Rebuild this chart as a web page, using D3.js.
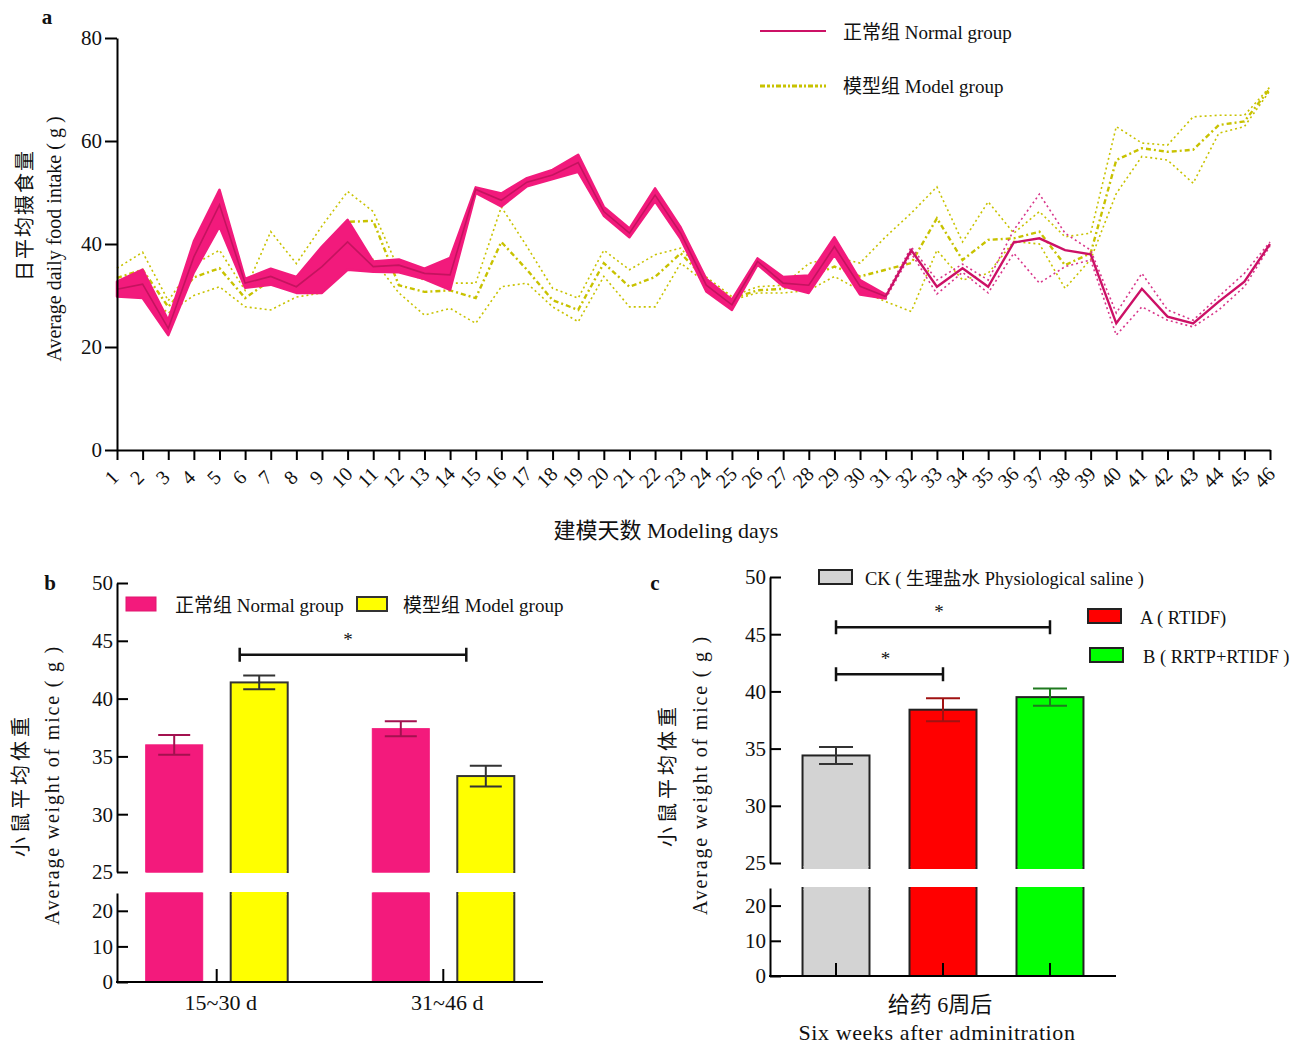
<!DOCTYPE html>
<html><head><meta charset="utf-8">
<script src="https://cdn.jsdelivr.net/npm/d3@7"></script>
<style>
body{margin:0;background:#fff}
text{font-family:"Liberation Serif","Times New Roman","Noto Sans CJK SC",serif;fill:#111}
</style>
</head><body>
<svg id="chart" width="1299" height="1045"></svg>
<script>
// ---------- Panel a data ----------
const days = [1,2,3,4,5,6,7,8,9,10,11,12,13,14,15,16,17,18,19,20,21,22,23,24,25,26,27,28,29,30,31,32,33,34,35,36,37,38,39,40,41,42,43,44,45,46];
const normalMean = [31.2,32.2,23.6,37.5,47.6,32.4,33.7,31.7,35.6,40.4,35.6,35.9,34.3,34.0,50.6,48.5,52.0,53.4,55.8,46.3,42.1,49.5,42.1,32.0,28.2,36.6,32.4,32.0,39.5,31.8,29.8,38.8,31.7,35.3,31.7,40.3,41.1,38.8,38.0,24.6,31.3,25.9,24.6,28.8,32.7,40.0];
const normalLo   = [29.8,29.5,22.3,34.5,43.4,31.5,32.1,30.5,30.5,35.0,34.6,34.5,33.2,31.1,49.9,47.3,51.2,52.6,54.0,45.5,41.3,48.3,41.0,30.8,27.2,36.0,31.8,30.5,37.9,30.2,29.4,38.2,30.3,34.5,30.5,38.2,32.4,35.6,36.9,22.3,27.8,25.2,23.9,27.2,31.7,39.6];
const normalHi   = [32.7,35.0,25.2,40.5,50.5,33.2,35.2,33.6,39.5,44.7,36.6,37.0,35.2,37.3,51.0,49.8,52.8,54.4,57.3,47.2,43.0,50.8,43.2,33.2,29.2,37.2,33.6,33.9,41.3,33.0,30.2,39.4,33.0,36.1,33.0,42.7,49.7,42.1,38.8,26.6,34.3,27.2,25.2,29.8,34.3,40.4];
const modelHi    = [35.3,38.4,29.0,36.0,38.8,31.0,42.4,36.2,43.5,50.2,46.3,35.0,33.0,32.4,32.4,47.2,39.5,31.4,29.5,38.8,35.0,37.9,39.2,33.6,29.8,31.7,32.0,36.2,37.5,36.3,41.4,46.0,51.1,40.4,48.2,42.1,46.3,41.4,42.1,62.8,59.6,59.2,64.7,65.0,65.0,70.5];
const modelMid   = [33.4,35.0,27.8,33.5,35.3,29.5,33.0,31.0,36.0,44.3,44.5,32.0,30.7,31.0,29.5,40.4,35.0,29.1,27.2,36.3,31.7,33.6,38.2,33.0,29.4,31.0,31.3,33.6,35.6,33.7,35.0,36.3,45.0,36.9,40.8,41.1,42.4,35.9,38.2,56.3,58.6,57.9,58.3,63.1,63.8,70.2];
const modelLo    = [32.0,30.7,26.6,30.0,31.7,27.8,27.2,29.7,30.5,36.5,37.0,30.5,26.2,27.5,24.6,31.7,32.4,27.8,24.9,33.7,27.8,27.8,36.3,32.4,29.1,30.5,30.5,31.0,33.7,31.0,28.8,26.9,38.8,33.0,34.3,40.5,40.0,31.4,37.0,49.8,57.0,56.3,51.8,61.5,62.8,69.8];
const aTicks = [0,20,40,60,80];
const bandLastDay = 31;

// ---------- Panel b data ----------
const bCategories = ["15~30 d","31~46 d"];
const bSeries = ["正常组 Normal group","模型组 Model group"];
const bNormal = [36.0, 37.4];
const bNormalErr = [0.85, 0.65];
const bModel = [41.4, 33.3];
const bModelErr = [0.6, 0.9];
const bUpperTicks = [25,30,35,40,45,50];
const bLowerTicks = [0,10,20];

// ---------- Panel c data ----------
const cCategories = ["CK","A","B"];
const cLegend = ["CK ( 生理盐水 Physiological saline )","A ( RTIDF)","B ( RRTP+RTIDF )"];
const cValues = [34.4, 38.4, 39.5];
const cErr = [0.75, 1.0, 0.75];
const cUpperTicks = [25,30,35,40,45,50];
const cLowerTicks = [0,10,20];

const svg = d3.select("#chart");

// ================= Panel a =================
const xA = d3.scalePoint().domain(days).range([117,1270]);
const yA = d3.scaleLinear().domain([0,80]).range([450,38]);
const gA = svg.append("g");

const normRows = days.map((d,i)=>({day:d, m:normalMean[i], lo:normalLo[i], hi:normalHi[i], mh:modelHi[i], mm:modelMid[i], ml:modelLo[i]}));
const bandRows = normRows.filter(r=>r.day<=bandLastDay);
const tailRows = normRows.filter(r=>r.day>=bandLastDay);
const yel = "#c8c200";

const mLine = k => d3.line().x(r=>xA(r.day)).y(r=>yA(r[k]));
gA.append("path").datum(normRows).attr("d",mLine("mh")).attr("fill","none").attr("stroke",yel).attr("stroke-width",1.6).attr("stroke-dasharray","2,3");
gA.append("path").datum(normRows).attr("d",mLine("ml")).attr("fill","none").attr("stroke",yel).attr("stroke-width",1.6).attr("stroke-dasharray","2,3");
gA.append("path").datum(normRows).attr("d",mLine("mm")).attr("fill","none").attr("stroke",yel).attr("stroke-width",2.4).attr("stroke-dasharray","5,3,2,3");

gA.append("path").datum(bandRows)
  .attr("d", d3.area().x(r=>xA(r.day)).y0(r=>yA(r.lo)).y1(r=>yA(r.hi)))
  .attr("fill","#f21a7c").attr("stroke","#f21a7c").attr("stroke-width",2.5).attr("stroke-linejoin","round");
gA.append("path").datum(bandRows).attr("d",mLine("m")).attr("fill","none").attr("stroke","#c4135f").attr("stroke-width",1.6);
gA.append("path").datum(tailRows).attr("d",mLine("lo")).attr("fill","none").attr("stroke","#d8358a").attr("stroke-width",1.6).attr("stroke-dasharray","2,3");
gA.append("path").datum(tailRows).attr("d",mLine("hi")).attr("fill","none").attr("stroke","#d8358a").attr("stroke-width",1.6).attr("stroke-dasharray","2,3");
gA.append("path").datum(tailRows).attr("d",mLine("m")).attr("fill","none").attr("stroke","#cc1166").attr("stroke-width",2.4);

const axYA = gA.append("g").attr("transform","translate(117,0)")
  .call(d3.axisLeft(yA).tickValues(aTicks).tickSize(12).tickSizeOuter(0).tickPadding(3));
const axXA = gA.append("g").attr("transform","translate(0,450)")
  .call(d3.axisBottom(xA).tickSize(10).tickSizeOuter(0).tickFormat(""));
[axYA,axXA].forEach(a=>{a.selectAll("path,line").attr("stroke","#000").attr("stroke-width",2);});
axYA.selectAll("text").attr("font-size",21).attr("fill","#111").style("font-family",'"Liberation Serif",serif');
gA.selectAll(".dayLbl").data(days).enter().append("text")
  .attr("transform",d=>`translate(${xA(d)-4},479) rotate(-45)`)
  .attr("text-anchor","middle").attr("dominant-baseline","middle")
  .attr("font-size",20).text(d=>d);
gA.append("text").attr("x",47).attr("y",24).attr("font-size",21).attr("font-weight","bold").attr("text-anchor","middle").text("a");
gA.append("text").attr("transform","translate(32,215) rotate(-90)").attr("text-anchor","middle").attr("font-size",20).attr("letter-spacing",2).text("日平均摄食量");
gA.append("text").attr("transform","translate(61,239) rotate(-90)").attr("text-anchor","middle").attr("font-size",20).text("Average daily food intake ( g )");
gA.append("text").attr("x",666).attr("y",538).attr("text-anchor","middle").attr("font-size",22).text("建模天数  Modeling days");
gA.append("line").attr("x1",760).attr("x2",826).attr("y1",31).attr("y2",31).attr("stroke","#cc1166").attr("stroke-width",2.2);
gA.append("text").attr("x",843).attr("y",39).attr("font-size",19).text("正常组 Normal group");
gA.append("line").attr("x1",760).attr("x2",826).attr("y1",86).attr("y2",86).attr("stroke",yel).attr("stroke-width",3).attr("stroke-dasharray","5,2,3,2,2,2");
gA.append("text").attr("x",843).attr("y",93).attr("font-size",19).text("模型组 Model group");

// ================= helper for broken bar panels =================
function brokenPanel(cfg){
  const g = svg.append("g");
  const yU = d3.scaleLinear().domain([25,50]).range([cfg.upperBottom, cfg.top]);
  const yL = d3.scaleLinear().domain([0,25]).range([cfg.base, cfg.lowerTop]);
  cfg.bars.forEach(b=>{
    g.append("rect").attr("x",b.x).attr("width",b.w).attr("y",yU(b.v)).attr("height",cfg.upperBottom+cfg.overhang-yU(b.v))
      .attr("fill",b.fill).attr("stroke",b.stroke).attr("stroke-width",b.sw);
    g.append("rect").attr("x",b.x).attr("width",b.w).attr("y",yL(25)).attr("height",cfg.base-yL(25))
      .attr("fill",b.fill).attr("stroke",b.stroke).attr("stroke-width",b.sw);
    g.append("rect").attr("x",b.x+b.sw/2).attr("width",b.w-b.sw).attr("y",cfg.upperBottom+cfg.overhang-b.sw).attr("height",b.sw*1.5).attr("fill",b.fill);
    g.append("rect").attr("x",b.x+b.sw/2).attr("width",b.w-b.sw).attr("y",yL(25)-b.sw/2).attr("height",b.sw*1.5).attr("fill",b.fill);
    const cx = b.x+b.w/2;
    g.append("line").attr("x1",cx).attr("x2",cx).attr("y1",yU(b.v+b.e)).attr("y2",yU(b.v-b.e)).attr("stroke",b.ec).attr("stroke-width",2);
    [b.v+b.e,b.v-b.e].forEach(v=>g.append("line").attr("x1",cx-b.cap).attr("x2",cx+b.cap).attr("y1",yU(v)).attr("y2",yU(v)).attr("stroke",b.ec).attr("stroke-width",2));
  });
  const ax = cfg.axisX;
  const aU = g.append("g").attr("transform",`translate(${ax},0)`)
    .call(d3.axisRight(yU).tickValues(cfg.upperTicks).tickSize(cfg.tick).tickSizeOuter(0).tickFormat(""));
  const aL = g.append("g").attr("transform",`translate(${ax},0)`)
    .call(d3.axisRight(yL).tickValues(cfg.lowerTicks).tickSize(cfg.tick).tickSizeOuter(0).tickFormat(""));
  [aU,aL].forEach(a=>a.selectAll("path,line").attr("stroke","#000").attr("stroke-width",2));
  g.selectAll(".tu").data(cfg.upperTicks).enter().append("text").attr("x",ax-4).attr("y",d=>yU(d)).attr("dy","0.35em").attr("text-anchor","end").attr("font-size",21).text(d=>d);
  g.selectAll(".tl").data(cfg.lowerTicks).enter().append("text").attr("x",ax-4).attr("y",d=>yL(d)).attr("dy","0.35em").attr("text-anchor","end").attr("font-size",21).text(d=>d);
  g.append("line").attr("x1",ax-1).attr("x2",cfg.axisEnd).attr("y1",cfg.base).attr("y2",cfg.base).attr("stroke","#000").attr("stroke-width",2);
  cfg.xTicks.forEach(x=>g.append("line").attr("x1",x).attr("x2",x).attr("y1",cfg.base).attr("y2",cfg.base-13).attr("stroke","#000").attr("stroke-width",2));
  return {g,yU,yL};
}

// ================= Panel b =================
const xB = d3.scalePoint().domain(bCategories).range([117,543]).padding(0.44);
const barW = 57;
const bBars = [];
bCategories.forEach((c,i)=>{
  const cx = xB(c);
  bBars.push({x:cx-barW-14, w:barW, v:bNormal[i], e:bNormalErr[i], fill:"#f31a7c", stroke:"#f31a7c", sw:1, ec:"#a3114f", cap:16});
  bBars.push({x:cx+14, w:barW, v:bModel[i], e:bModelErr[i], fill:"#ffff00", stroke:"#333", sw:2, ec:"#333", cap:16});
});
const pb = brokenPanel({top:583, upperBottom:872, overhang:0, lowerTop:893, base:982, axisX:117, axisEnd:543, tick:11,
  upperTicks:bUpperTicks, lowerTicks:bLowerTicks, bars:bBars, xTicks:bCategories.map(c=>xB(c))});
bCategories.forEach(c=>pb.g.append("text").attr("x",xB(c)+4).attr("y",1010).attr("text-anchor","middle").attr("font-size",22).text(c));
{
  const x1 = xB(bCategories[0])+23, x2 = xB(bCategories[1])+23, y = pb.yU(43.8);
  pb.g.append("path").attr("d",`M${x1},${y-7}V${y+7}M${x1},${y}H${x2}M${x2},${y-7}V${y+7}`).attr("stroke","#111").attr("stroke-width",2.5).attr("fill","none");
  pb.g.append("text").attr("x",(x1+x2)/2-5).attr("y",y-9).attr("text-anchor","middle").attr("font-size",19).text("*");
}
pb.g.append("rect").attr("x",126).attr("y",597).attr("width",30).attr("height",14).attr("fill","#f31a7c").attr("stroke","#e0176f");
pb.g.append("text").attr("x",175).attr("y",612).attr("font-size",19).text(bSeries[0]);
pb.g.append("rect").attr("x",357).attr("y",597).attr("width",30).attr("height",14).attr("fill","#ffff00").attr("stroke","#333").attr("stroke-width",2);
pb.g.append("text").attr("x",403).attr("y",612).attr("font-size",19).text(bSeries[1]);
pb.g.append("text").attr("x",50).attr("y",590).attr("font-size",21).attr("font-weight","bold").attr("text-anchor","middle").text("b");
pb.g.append("text").attr("transform","translate(28,785) rotate(-90)").attr("text-anchor","middle").attr("font-size",20).attr("letter-spacing",4).text("小鼠平均体重");
pb.g.append("text").attr("transform","translate(59,785) rotate(-90)").attr("text-anchor","middle").attr("font-size",20).attr("letter-spacing",1.8).text("Average weight of mice ( g )");

// ================= Panel c =================
const xC = d3.scaleBand().domain(cCategories).range([770,1116]).paddingInner(0.374).paddingOuter(0.304);
const cFill = ["#d3d3d3","#ff0000","#00ff00"];
const cEc = ["#333","#a01212","#1f7a1f"];
const cBars = cCategories.map((c,i)=>({x:xC(c), w:xC.bandwidth(), v:cValues[i], e:cErr[i], fill:cFill[i], stroke:"#222", sw:2, ec:cEc[i], cap:17}));
const pc = brokenPanel({top:577, upperBottom:863, overhang:5, lowerTop:888, base:976, axisX:770, axisEnd:1116, tick:11,
  upperTicks:cUpperTicks, lowerTicks:cLowerTicks, bars:cBars, xTicks:cCategories.map(c=>xC(c)+xC.bandwidth()/2)});
{
  const cx = cCategories.map(c=>xC(c)+xC.bandwidth()/2);
  const br = (x1,x2,v)=>{
    const y = pc.yU(v);
    pc.g.append("path").attr("d",`M${x1},${y-7}V${y+7}M${x1},${y}H${x2}M${x2},${y-7}V${y+7}`).attr("stroke","#111").attr("stroke-width",2.5).attr("fill","none");
    pc.g.append("text").attr("x",(x1+x2)/2-4).attr("y",y-9).attr("text-anchor","middle").attr("font-size",19).text("*");
  };
  br(cx[0],cx[2],45.6);
  br(cx[0],cx[1],41.5);
}
const cLegPos = [[819,570,865,585],[1088,609,1140,624],[1090,648,1143,663]];
cLegend.forEach((t,i)=>{
  const p = cLegPos[i];
  pc.g.append("rect").attr("x",p[0]).attr("y",p[1]).attr("width",33).attr("height",14).attr("fill",cFill[i]).attr("stroke","#222").attr("stroke-width",2);
  pc.g.append("text").attr("x",p[2]).attr("y",p[3]).attr("font-size",18.5).text(t);
});
pc.g.append("text").attr("x",655).attr("y",590).attr("font-size",21).attr("font-weight","bold").attr("text-anchor","middle").text("c");
pc.g.append("text").attr("transform","translate(675,775) rotate(-90)").attr("text-anchor","middle").attr("font-size",20).attr("letter-spacing",4).text("小鼠平均体重");
pc.g.append("text").attr("transform","translate(707,775) rotate(-90)").attr("text-anchor","middle").attr("font-size",20).attr("letter-spacing",1.8).text("Average weight of mice ( g )");
pc.g.append("text").attr("x",940).attr("y",1012).attr("text-anchor","middle").attr("font-size",22).text("给药 6周后");
pc.g.append("text").attr("x",937).attr("y",1040).attr("text-anchor","middle").attr("font-size",22).attr("letter-spacing",0.6).text("Six weeks after adminitration");
</script>
</body></html>
